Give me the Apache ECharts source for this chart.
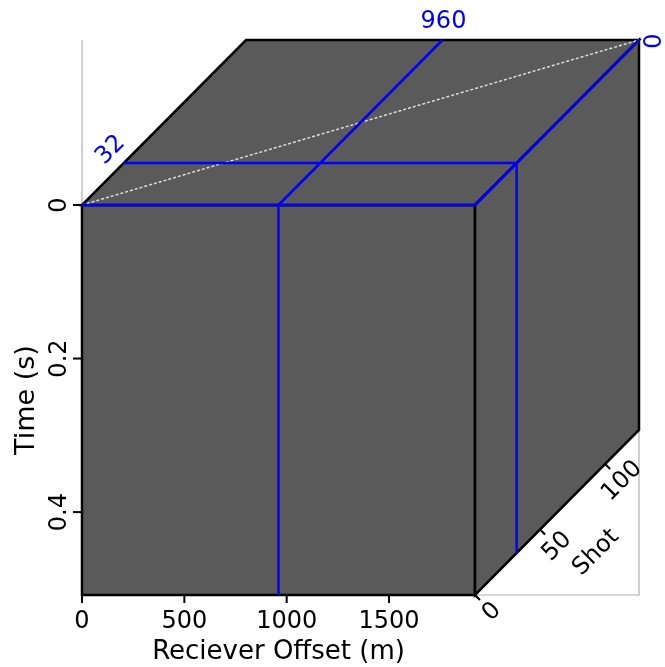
<!DOCTYPE html>
<html>
<head>
<meta charset="utf-8">
<script src="https://cdn.jsdelivr.net/npm/echarts@6/dist/echarts.min.js"></script>
<style>
  html, body { margin: 0; background: #fff; }
  #chart { width: 665px; height: 667px; }
</style>
</head>
<body>
<div id="chart"></div>
<script>
// cube extents
const offsetRange = [0, 1920];   // Reciever Offset (m)
const timeRange = [0, 0.508];    // Time (s)
const shotRange = [0, 126];      // Shot
// tick labels
const offsetTicks = [0, 500, 1000, 1500];
const timeTicks = [0, 0.2, 0.4];
const shotTicks = [0, 50, 100];
// slice position: [offset, time, shot]
const slicePos = [960, 0, 32];

const FONT = 'DejaVu Sans';
const BLUE = '#0000ff';
const FACE = '#5a5a5a';

const chart = echarts.init(document.getElementById('chart'));

function renderCube(params, api) {
  const O = offsetRange[1], T = timeRange[1], S = shotRange[1];
  const [so, st, ss] = slicePos;
  const s0 = chart.convertToPixel({ gridIndex: 1 }, [0, 0]);
  // project (offset, time, shot) to pixels: front grid + depth grid shift
  const P = (o, t, s) => {
    const p = api.coord([o, t]);
    const q = chart.convertToPixel({ gridIndex: 1 }, [s, s]);
    return [p[0] + q[0] - s0[0], p[1] + q[1] - s0[1]];
  };
  const line = (a, b, color, w, dash) => ({
    type: 'polyline',
    shape: { points: [a, b] },
    style: { stroke: color, lineWidth: w, lineDash: dash || null, fill: null }
  });
  const face = pts => ({
    type: 'polygon',
    shape: { points: pts },
    style: { fill: FACE, stroke: '#000', lineWidth: 2.5, lineJoin: 'miter' }
  });
  const text = (str, pos, rot, color, size) => ({
    type: 'text',
    x: pos[0], y: pos[1], rotation: rot,
    style: {
      text: str, fill: color, fontSize: size || 24, fontFamily: FONT,
      align: 'center', verticalAlign: 'middle'
    }
  });

  const xL = P(0, 0, 0)[0], yT = P(0, 0, S)[1];
  const xR = P(O, 0, S)[0], yB = P(0, T, 0)[1];
  const kids = [];
  // light frame
  kids.push({
    type: 'polyline',
    shape: { points: [[xL, yT], [xL, yB], [xR, yB], [xR, yT]] },
    style: { stroke: '#b0b0b0', lineWidth: 1.2, fill: null }
  });
  // faces
  kids.push(face([P(0, 0, 0), P(O, 0, 0), P(O, T, 0), P(0, T, 0)]));
  kids.push(face([P(0, 0, 0), P(O, 0, 0), P(O, 0, S), P(0, 0, S)]));
  kids.push(face([P(O, 0, 0), P(O, 0, S), P(O, T, S), P(O, T, 0)]));
  // dashed diagonal on top face
  kids.push(line(P(0, 0, 0), P(O, 0, S), '#dcdcdc', 1.5, [3, 2]));
  // slice lines
  kids.push(line(P(0, st, 0), P(O, st, 0), BLUE, 2.5));
  kids.push(line(P(O, st, 0), P(O, st, S), BLUE, 2.5));
  kids.push(line(P(so, 0, 0), P(so, T, 0), BLUE, 2.5));
  kids.push(line(P(so, 0, 0), P(so, 0, S), BLUE, 2.5));
  kids.push(line(P(0, 0, ss), P(O, 0, ss), BLUE, 2.5));
  kids.push(line(P(O, 0, ss), P(O, T, ss), BLUE, 2.5));
  // slice labels
  const pOff = P(so, 0, S);
  kids.push(text(String(so), [pOff[0] + 1, pOff[1] - 18], 0, BLUE));
  const pTime = P(O, st, S);
  kids.push(text(String(st), [pTime[0] + 16, pTime[1] + 1], Math.PI / 2, BLUE));
  const pShot = P(0, 0, ss);
  kids.push(text(String(ss), [pShot[0] - 13, pShot[1] - 13], Math.PI / 4, BLUE));
  // ticks of offset and time axes
  offsetTicks.forEach(v => {
    const a = P(v, T, 0);
    kids.push(line([a[0], a[1] + 1], [a[0], a[1] + 8], '#000', 2));
  });
  timeTicks.forEach(v => {
    const a = P(0, v, 0);
    kids.push(line([a[0] - 1, a[1]], [a[0] - 9, a[1]], '#000', 2));
  });
  // shot axis along bottom-right diagonal
  const n = Math.SQRT1_2;
  shotTicks.forEach(v => {
    const a = P(O, T, v);
    kids.push(line(a, [a[0] + 7 * n, a[1] + 7 * n], '#000', 2));
    kids.push(text(String(v), [a[0] + 17, a[1] + 17], Math.PI / 4, '#000'));
  });
  const mid = P(O, T, S / 2);
  kids.push(text('Shot', [mid[0] + 39, mid[1] + 40], Math.PI / 4, '#000'));
  return { type: 'group', children: kids };
}

const option = {
  animation: false,
  backgroundColor: '#fff',
  grid: [
    { left: 82, top: 205, width: 393, height: 390, outerBoundsMode: 'none' },
    { left: 475, top: 40, width: 164, height: 165, outerBoundsMode: 'none' }
  ],
  xAxis: [{
    gridIndex: 0,
    type: 'value',
    position: 'bottom',
    min: offsetRange[0],
    max: offsetRange[1],
    name: 'Reciever Offset (m)',
    nameLocation: 'middle',
    nameGap: 43,
    nameTextStyle: { fontSize: 26, fontFamily: FONT, color: '#000' },
    axisLine: { show: true, onZero: false, lineStyle: { color: '#000', width: 2 } },
    axisTick: { show: false },
    axisLabel: {
      customValues: offsetTicks, fontSize: 24, fontFamily: FONT, color: '#000', margin: 15,
      formatter: v => String(v)
    },
    splitLine: { show: false }
  }, {
    gridIndex: 1, type: 'value', min: shotRange[0], max: shotRange[1], show: false
  }],
  yAxis: [{
    gridIndex: 0,
    type: 'value',
    position: 'left',
    inverse: true,
    min: timeRange[0],
    max: timeRange[1],
    name: 'Time (s)',
    nameLocation: 'middle',
    nameGap: 38,
    nameTextStyle: { fontSize: 27, fontFamily: FONT, color: '#000' },
    axisLine: { show: true, onZero: false, lineStyle: { color: '#000', width: 2 } },
    axisTick: { show: false },
    axisLabel: {
      customValues: timeTicks, rotate: 90, fontSize: 24, fontFamily: FONT, color: '#000', margin: 10,
      formatter: v => String(v)
    },
    splitLine: { show: false }
  }, {
    gridIndex: 1, type: 'value', min: shotRange[0], max: shotRange[1], show: false
  }],
  series: [{
    type: 'custom',
    xAxisIndex: 0,
    yAxisIndex: 0,
    renderItem: renderCube,
    data: [[0, 0]],
    silent: true
  }]
};

chart.setOption(option);
</script>
</body>
</html>
